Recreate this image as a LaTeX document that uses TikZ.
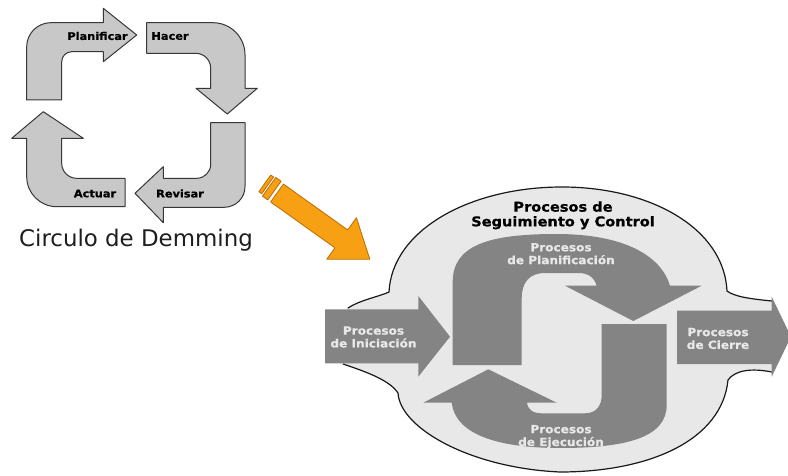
\documentclass[tikz,border=0pt]{standalone}
\usepackage{fontspec}
\setmainfont{DejaVu Sans}
\newfontfamily\heavyfont[FakeStretch=1.08, BoldFeatures={FakeBold=0.8}]{DejaVu Sans}

\definecolor{cyclefill}{RGB}{200,200,200}
\definecolor{cycleline}{RGB}{55,55,55}
\definecolor{blobfill}{RGB}{232,232,232}
\definecolor{blobline}{RGB}{25,25,25}
\definecolor{pmdark}{RGB}{132,132,132}
\definecolor{pmtext}{RGB}{232,232,232}
\definecolor{orangefill}{RGB}{247,160,20}
\definecolor{orangeline}{RGB}{190,108,0}

\tikzset{
  cyclearrow/.style={fill=cyclefill, draw=cycleline, line width=1pt, line join=round},
  cyclelabel/.style={font=\heavyfont\bfseries\fontsize{10.5}{12}\selectfont, inner sep=0pt},
  orangearrow/.style={fill=orangefill, draw=orangeline, line width=0.8pt, line join=round},
  blobarea/.style={fill=blobfill},
  blobedge/.style={draw=blobline, line width=1.2pt, line cap=round},
  pmshape/.style={fill=pmdark},
  pmlabel/.style={font=\heavyfont\bfseries\fontsize{11.2}{12.8}\selectfont, text=pmtext, align=center, inner sep=0pt},
  titlelabel/.style={font=\heavyfont\bfseries\fontsize{13.5}{14.7}\selectfont, text=black, align=center, inner sep=0pt}
}

\begin{document}
\begin{tikzpicture}[x=1pt, y=-1pt]
\useasboundingbox (0,0) rectangle (788,476);
\clip (0,0) rectangle (788,476);
\fill[white] (0,0) rectangle (788,476);

% ---------- PDCA cycle ----------
\filldraw[cyclearrow] (26.7,100) -- (26.7,46.7) .. controls (26.7,33.5) and (37.5,22.7) .. (50.7,22.7)
  -- (103.3,22.7) -- (103.3,8.3) -- (136.7,35) -- (103.3,61.7) -- (103.3,51.7) -- (71.7,51.7)
  .. controls (66.2,51.7) and (61.7,56.2) .. (61.7,61.7) -- (61.7,100) -- cycle;
\filldraw[cyclearrow] (146.7,22.7) -- (213,22.7) .. controls (230.6,22.7) and (245,37.1) .. (245,54.7)
  -- (245,88.3) -- (257.3,88.3) -- (227.3,114) -- (196,88.3) -- (210.7,88.3) -- (210.7,68.3)
  .. controls (210.7,60) and (204,53.3) .. (195.7,53.3) -- (146.7,53.3) -- cycle;
\filldraw[cyclearrow] (210.7,122.7) -- (245,122.7) -- (245,186.7) .. controls (245,198.2) and (235.6,207.3) .. (224,207.3)
  -- (163.3,207.3) -- (163.3,222.7) -- (135,193.3) -- (163.3,166.7) -- (163.3,178.3) -- (196.7,178.3)
  .. controls (204.4,178.3) and (210.7,172) .. (210.7,164.3) -- cycle;
\filldraw[cyclearrow] (125,178.3) -- (125,206.7) -- (56.7,206.7) .. controls (40.2,206.7) and (26.7,193.2) .. (26.7,176.7)
  -- (26.7,138.3) -- (11.7,138.3) -- (43.3,111.7) -- (83.3,138.3) -- (61.7,138.3) -- (61.7,163.3)
  .. controls (61.7,171.6) and (68.4,178.3) .. (76.7,178.3) -- cycle;

\node[cyclelabel] (plan) at (97.5,36) {Planificar};
\node[cyclelabel] (hacer) at (170,36) {Hacer};
\node[cyclelabel] (revisar) at (180,193.5) {Revisar};
\node[cyclelabel] (actuar) at (95,193.5) {Actuar};
\node[font=\fontsize{22.9}{26}\selectfont, text={rgb,255:red,30;green,30;blue,30}, inner sep=0pt, anchor=base]
  (ciclo) at (136,247) {Circulo de Demming};

% ---------- orange transition arrow ----------
\begin{scope}[shift={(277,193)}, rotate=-35.5]
  \filldraw[orangearrow] (-15.5,-11) rectangle (-12,9.5);
  \filldraw[orangearrow] (-10,-12) rectangle (-3.5,11);
  \filldraw[orangearrow] (0,-11) -- (79,-11) -- (79,-26) -- (114,0) -- (79,25) -- (79,11) -- (0,11) -- cycle;
\end{scope}

% ---------- project management process groups ----------
% light area of monitoring and control
\fill[blobarea] (348,308) .. controls (360,300) and (378,297) .. (389,292)
  .. controls (392,230) and (470,187) .. (562,187)
  .. controls (650,187) and (724,228) .. (727,291)
  .. controls (735,297) and (752,299) .. (771.7,301)
  -- (771.7,372)
  .. controls (752,368) and (735,370) .. (728,380)
  .. controls (722,440) and (650,472) .. (560,472)
  .. controls (470,468) and (400,428) .. (398,393)
  .. controls (390,381) and (370,373) .. (343,364) -- cycle;
% its outline, above and below the side arrows
\draw[blobedge] (348,308) .. controls (360,300) and (378,297) .. (389,292)
  .. controls (392,230) and (470,187) .. (562,187)
  .. controls (650,187) and (724,228) .. (727,291)
  .. controls (735,297) and (752,299) .. (771.7,301);
\draw[blobedge] (771.7,372)
  .. controls (752,368) and (735,370) .. (728,380)
  .. controls (722,440) and (650,472) .. (560,472)
  .. controls (470,468) and (400,428) .. (398,393)
  .. controls (390,381) and (370,373) .. (343,364);

% initiating and closing arrows
\fill[pmshape] (325,309.3) -- (418.3,309.3) -- (418.3,296) -- (450,336.7) -- (418.3,376.7) -- (418.3,363.3) -- (325,363.3) -- cycle;
\fill[pmshape] (677,310.7) -- (771.7,310.7) -- (771.7,296.7) -- (791,336.7) -- (771.7,376.7) -- (771.7,364) -- (677,364) -- cycle;

% planning arrow (over the top)
\fill[pmshape] (452.7,365) -- (452.7,282) .. controls (452.7,246) and (487,234) .. (556,234)
  .. controls (625,234) and (661,256) .. (670,285.7) -- (701.7,285.7) -- (633.3,321) -- (565,285.7) -- (596.7,285.7)
  .. controls (594,277) and (588,273) .. (578,273) -- (545,273)
  .. controls (529,273) and (521.7,283) .. (521.7,298) -- (521.7,365) -- cycle;
% executing arrow (under the bottom)
\fill[pmshape] (601.7,324) -- (666.7,324) -- (666.7,405) .. controls (666.7,438) and (625,448) .. (560,448)
  .. controls (492,448) and (455,432) .. (451.7,402.7) -- (423.3,402.7) -- (488.3,369.3) -- (556.7,402.7) -- (527,402.7)
  .. controls (528,410) and (533,413.3) .. (542,413.3) -- (585,413.3)
  .. controls (596,413.3) and (601.7,406) .. (601.7,395) -- cycle;

\node[titlelabel] (control) at (563,215.3) {Procesos de\\Seguimiento y Control};
\node[pmlabel] (planif) at (561,253.7) {Procesos\\de Planificación};
\node[pmlabel] (ejec) at (561,436.7) {Procesos\\de Ejecución};
\node[pmlabel] (inic) at (373.5,337) {Procesos\\de Iniciación};
\node[pmlabel] (cierre) at (718,338.5) {Procesos\\de Cierre};
\end{tikzpicture}
\end{document}
